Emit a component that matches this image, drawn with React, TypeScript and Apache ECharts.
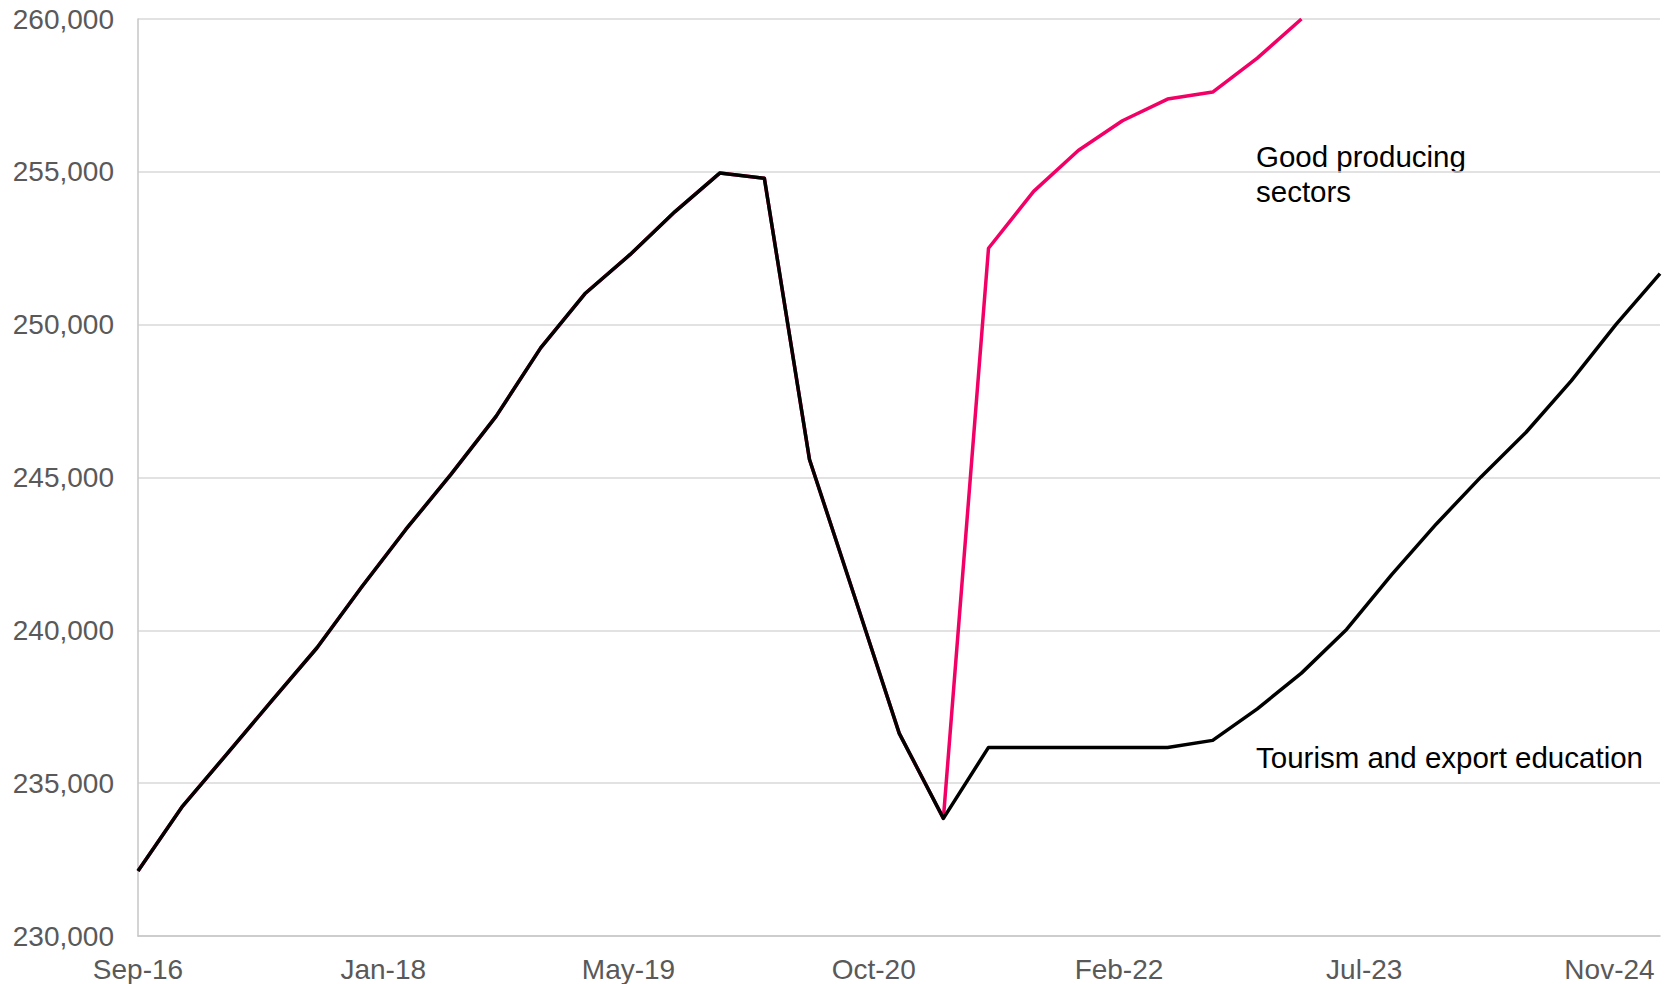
import React, { useEffect, useRef } from "react";
import * as echarts from "echarts";

const quarters = [
  "2016-09", "2016-12", "2017-03", "2017-06", "2017-09", "2017-12", "2018-03", "2018-06",
  "2018-09", "2018-12", "2019-03", "2019-06", "2019-09", "2019-12", "2020-03", "2020-06",
  "2020-09", "2020-12", "2021-03", "2021-06", "2021-09", "2021-12", "2022-03", "2022-06",
  "2022-09", "2022-12", "2023-03", "2023-06", "2023-09", "2023-12", "2024-03", "2024-06",
  "2024-09", "2024-12", "2025-03",
];

const tourismExportEducation = [
  232130, 234250, 235950, 237700, 239430, 241420, 243300, 245100,
  247000, 249240, 251010, 252290, 253700, 254960, 254790, 245590,
  241100, 236630, 233850, 236170, 236170, 236170, 236170, 236170,
  236400, 237430, 238600, 240030, 241820, 243480, 245020, 246480,
  248160, 250000, 251670,
];

const goodProducingSectors = [
  232130, 234250, 235950, 237700, 239430, 241420, 243300, 245100,
  247000, 249240, 251010, 252290, 253700, 254960, 254790, 245590,
  241100, 236630, 233850, 252500, 254360, 255700, 256670, 257380,
  257610, 258720, 260000,
];

const yTicks = { min: 230000, max: 260000, interval: 5000 };
const labelEveryDays = 500;
const monthNames = ["Jan", "Feb", "Mar", "Apr", "May", "Jun", "Jul", "Aug", "Sep", "Oct", "Nov", "Dec"];

const DAY = 86400000;
const origin = Date.UTC(2016, 8, 1);
const toDays = (q: string) => {
  const [y, m] = q.split("-").map(Number);
  return Math.round((Date.UTC(y, m - 1, 1) - origin) / DAY);
};
const xDays = quarters.map(toDays);

const fmtDay = (v: number) => {
  const d = new Date(origin + v * DAY);
  return monthNames[d.getUTCMonth()] + "-" + String(d.getUTCFullYear()).slice(2);
};

const FONT = 'Arial, "Liberation Sans", sans-serif';

export default function App() {
  const ref = useRef<HTMLDivElement>(null);
  useEffect(() => {
    document.body.style.margin = "0";
    const chart = echarts.init(ref.current!, null, { renderer: "svg" });
    chart.setOption({
      animation: false,
      backgroundColor: "#ffffff",
      grid: { left: 138, right: 9, top: 19, bottom: 48, containLabel: false },
      xAxis: {
        type: "value",
        min: 0,
        max: xDays[xDays.length - 1],
        interval: labelEveryDays,
        axisLine: { show: true, lineStyle: { color: "#c6c6c6", width: 1.5 } },
        axisTick: { show: false },
        splitLine: { show: false },
        axisLabel: {
          color: "#595959",
          fontSize: 28,
          fontFamily: FONT,
          margin: 19,
          showMaxLabel: false,
          formatter: (v: number) => (v % labelEveryDays === 0 ? fmtDay(v) : ""),
        },
      },
      yAxis: {
        type: "value",
        min: yTicks.min,
        max: yTicks.max,
        interval: yTicks.interval,
        axisLine: { show: true, lineStyle: { color: "#c6c6c6", width: 1.5 } },
        axisTick: { show: false },
        splitLine: { show: true, lineStyle: { color: "#d9d9d9", width: 1.5 } },
        axisLabel: {
          color: "#595959",
          fontSize: 28,
          fontFamily: FONT,
          margin: 24,
          formatter: (v: number) => v.toLocaleString("en-US"),
        },
      },
      series: [
        {
          name: "Good producing sectors",
          type: "line",
          data: goodProducingSectors.map((v, i) => [xDays[i], v]),
          showSymbol: false,
          clip: true,
          lineStyle: { color: "#f20065", width: 3.5, join: "round" },
        },
        {
          name: "Tourism and export education",
          type: "line",
          data: tourismExportEducation.map((v, i) => [xDays[i], v]),
          showSymbol: false,
          clip: true,
          lineStyle: { color: "#000000", width: 3.5, join: "round" },
        },
      ],
      graphic: [
        {
          type: "text",
          left: 1256,
          top: 139,
          style: {
            text: "Good producing\nsectors",
            fill: "#000000",
            font: `29.5px ${FONT}`,
            lineHeight: 35,
          },
        },
        {
          type: "text",
          left: 1256,
          top: 742,
          style: {
            text: "Tourism and export education",
            fill: "#000000",
            font: `29.5px ${FONT}`,
          },
        },
      ],
    });
    return () => chart.dispose();
  }, []);
  return <div ref={ref} style={{ width: 1669, height: 984 }} />;
}
